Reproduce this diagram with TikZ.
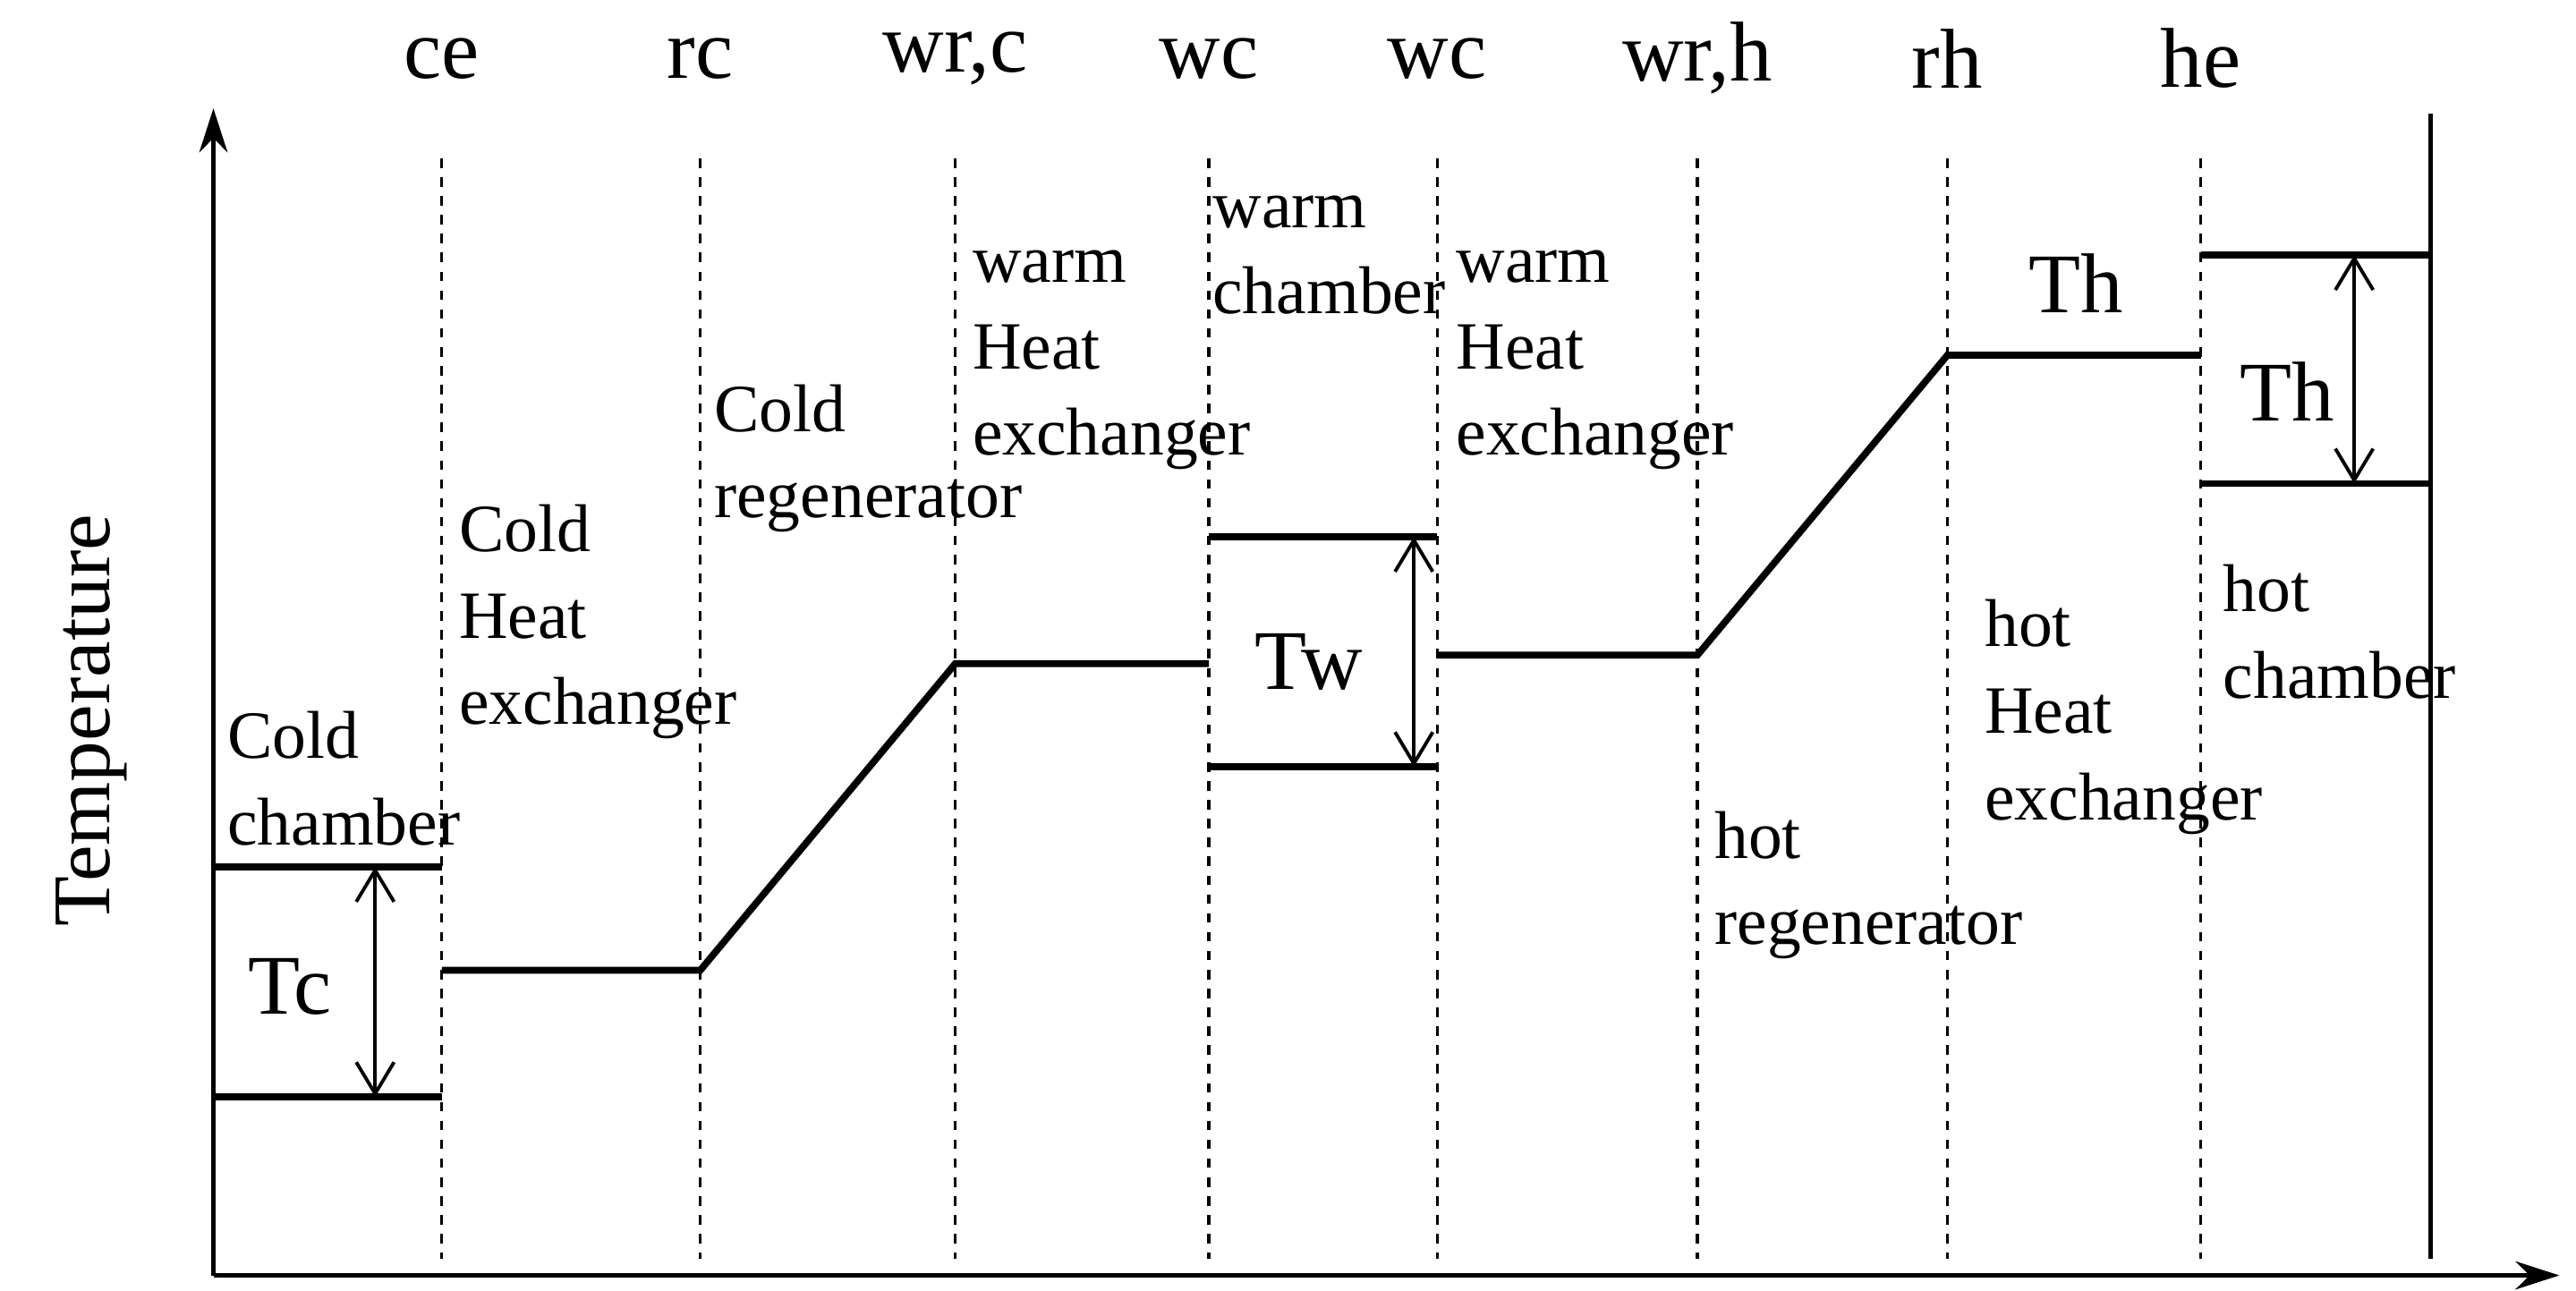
\documentclass[tikz,border=0pt]{standalone}
\usepackage{fontspec}
\setmainfont{Liberation Serif}
\usetikzlibrary{arrows.meta}
\begin{document}
\begin{tikzpicture}[x=0.01863cm,y=-0.01863cm,
  lvl/.style={line width=2.2pt},
  dsh/.style={dashed,line width=0.9pt},
  axis/.style={line width=1.2pt,-{Stealth[length=14pt,width=9pt]}},
  dim/.style={line width=1.1pt,{Straight Barb[length=10pt,width=12pt]}-{Straight Barb[length=10pt,width=12pt]}},
  top/.style={font=\fontsize{27}{30}\selectfont},
  lab/.style={font=\fontsize{21.5}{27.5}\selectfont,align=left,anchor=west,inner sep=0pt},
  big/.style={font=\fontsize{27}{30}\selectfont}]
\useasboundingbox (0,0) rectangle (1545,774);
\coordinate (o) at (128,765);
\coordinate (yt) at (128,65);
\coordinate (xt) at (1535,765);
\draw[axis] (o) -- (yt);
\draw[axis] (o) -- (xt);
\draw[line width=1.4pt] (1458,68) -- (1458,755);
\foreach \x/\t in {265/ce,420/rc,573/{wr,c},725/wc,862/wc,1018/{wr,h},1168/rh,1320/he}{
  \draw[dsh] (\x,95) -- (\x,755);
  \node[top] at (\x,35) {\t};
}
% cold
\draw[lvl] (128,520) -- (265,520);
\draw[lvl] (128,658) -- (265,658);
\draw[dim] (225,520) -- (225,658);
\node[big] (tc) at (174,592) {Tc};
% profile
\draw[lvl] (265,582) -- (420,582) -- (573,398) -- (725,398);
\draw[lvl] (725,322) -- (862,322);
\draw[lvl] (725,460) -- (862,460);
\draw[dim] (848,322) -- (848,460);
\node[big] (tw) at (785,397) {Tw};
\draw[lvl] (862,393) -- (1018,393) -- (1168,213) -- (1320,213);
\node[big] (th1) at (1245,170) {Th};
\draw[lvl] (1320,153) -- (1458,153);
\draw[lvl] (1320,290) -- (1458,290);
\draw[dim] (1412,153) -- (1412,290);
\node[big] (th2) at (1372,235) {Th};
% labels
\node[lab] (a) at (136,467) {Cold\\chamber};
\node[lab] (b) at (275,373) {Cold\\Heat\\exchanger};
\node[lab] (c) at (428,275) {Cold\\regenerator};
\node[lab] (d) at (583,216) {warm\\Heat\\exchanger};
\node[lab] (e) at (727,153) {warm\\chamber};
\node[lab] (f) at (873,216) {warm\\Heat\\exchanger};
\node[lab] (g) at (1028,531) {hot\\regenerator};
\node[lab] (h) at (1190,430) {hot\\Heat\\exchanger};
\node[lab] (i) at (1333,379) {hot\\chamber};
\node[rotate=90,font=\fontsize{26}{30}\selectfont] (ty) at (55,432) {Temperature};
\end{tikzpicture}
\end{document}
